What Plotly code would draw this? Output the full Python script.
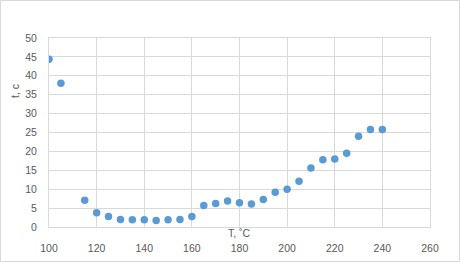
import plotly.graph_objects as go

temps = [100, 105, 115, 120, 125, 130, 135, 140, 145, 150, 155, 160, 165, 170, 175,
         180, 185, 190, 195, 200, 205, 210, 215, 220, 225, 230, 235, 240]
times = [44.4, 38.0, 7.1, 3.8, 2.8, 2.0, 1.9, 1.95, 1.7, 1.95, 2.0, 2.75, 5.7, 6.2, 6.9,
         6.4, 6.1, 7.3, 9.2, 10.0, 12.1, 15.6, 17.8, 18.0, 19.5, 24.0, 25.8, 25.8]

x_ticks = [100, 120, 140, 160, 180, 200, 220, 240, 260]
y_ticks = [0, 5, 10, 15, 20, 25, 30, 35, 40, 45, 50]

grid = "#d9d9d9"
txt = "#595959"
font = dict(family="Liberation Sans, Arial, sans-serif", size=10.5, color=txt)

fig = go.Figure(go.Scatter(
    x=temps, y=times, mode="markers",
    marker=dict(color="#5b9bd5", size=7.5, line=dict(width=0)),
    showlegend=False,
))

fig.update_layout(
    width=461, height=263,
    margin=dict(l=49, r=31, t=38, b=36),
    paper_bgcolor="white", plot_bgcolor="white",
    font=font,
    xaxis=dict(range=[100, 260], tickvals=x_ticks, showgrid=True, gridcolor=grid,
               gridwidth=1, zeroline=False, showline=True, linecolor=grid, mirror=True,
               ticks="", ticklabelstandoff=11, fixedrange=True, automargin=False),
    yaxis=dict(range=[0, 50], tickvals=y_ticks, showgrid=True, gridcolor=grid,
               gridwidth=1, zeroline=False, showline=True, linecolor=grid, mirror=True,
               ticks="", ticklabelstandoff=9, fixedrange=True, automargin=False),
    annotations=[
        dict(text="t, c", x=15, y=91, xref="paper", yref="paper", showarrow=False,
             textangle=-90, font=font, xanchor="center", yanchor="middle"),
        dict(text="T, ˚C", x=239, y=233, xref="paper", yref="paper", showarrow=False,
             font=font, xanchor="center", yanchor="middle"),
    ],
)

# convert pixel positions of annotations to paper coordinates
L, R, T, B = 49, 31, 38, 36
W, H = 461 - L - R, 263 - T - B
for a in fig.layout.annotations:
    a.x = (a.x - L) / W
    a.y = (263 - B - a.y) / H

fig.add_shape(type="rect", xref="paper", yref="paper",
              x0=(0.5 - L) / W, x1=(459.5 - L) / W,
              y0=(263 - B - 261.5) / H, y1=(263 - B - 0.5) / H,
              line=dict(color=grid, width=1), fillcolor="rgba(0,0,0,0)", layer="below")

fig.write_html("out.html", config={"displayModeBar": False},
               post_script="document.body.style.margin='0';")
